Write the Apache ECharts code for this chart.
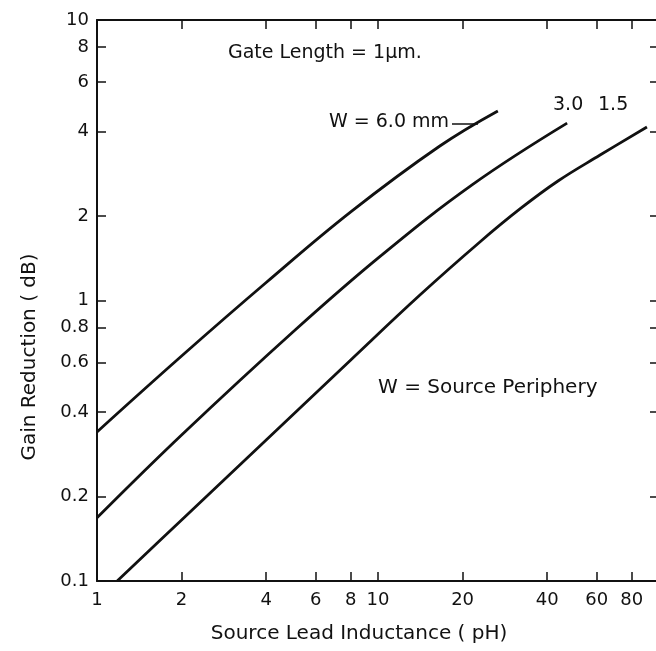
<!DOCTYPE html>
<html>
<head>
<meta charset="utf-8">
<script src="https://cdn.jsdelivr.net/npm/echarts@6/dist/echarts.min.js"></script>
<style>
  html, body { margin: 0; padding: 0; background: #fff; }
  #chart { width: 656px; height: 651px; }
</style>
</head>
<body>
<div id="chart"></div>
<script>
// tick positions (log axes)
const xTicks = [1, 2, 4, 6, 8, 10, 20, 40, 60, 80]
const yTicks = [0.1, 0.2, 0.4, 0.6, 0.8, 1, 2, 4, 6, 8, 10]

// curves: [inductance pH, gain reduction dB]
const w60 = [[1, 0.34], [2, 0.634], [4, 1.159], [8, 2.07], [16.6, 3.555], [26.7, 4.74]]
const w30 = [[1, 0.168], [2, 0.3315], [5.07, 0.785], [10.2, 1.44], [21.8, 2.6], [47.1, 4.29]]
const w15 = [[1.18, 0.1], [2, 0.165], [4, 0.318], [8, 0.614], [14.1, 1.046], [23.1, 1.62], [32, 2.12], [43.7, 2.667], [61.7, 3.3], [90.6, 4.155]]

const font = 'DejaVu Sans'
const ink = '#111'

const chart = echarts.init(document.getElementById('chart'))

const fmt = v => String(+(+v).toPrecision(3))

function axis(pos, ticks, labels, min, max, margin) {
  return {
    type: 'log',
    logBase: 10,
    position: pos,
    min,
    max,
    axisLine: { show: true, lineStyle: { color: ink, width: 2 } },
    axisTick: { show: true, inside: true, length: 9, customValues: ticks, lineStyle: { color: ink, width: 1.5 } },
    axisLabel: labels
      ? { show: true, customValues: ticks, formatter: fmt, color: ink, fontFamily: font, fontSize: 18, margin }
      : { show: false },
    splitLine: { show: false },
    minorTick: { show: false }
  }
}

const line = (name, data) => ({
  name,
  type: 'line',
  data,
  smooth: 0.4,
  showSymbol: false,
  lineStyle: { color: ink, width: 2.8 },
  xAxisIndex: 0,
  yAxisIndex: 0
})

const txt = (x, y, s, size, extra) => ({
  type: 'text', x, y,
  style: Object.assign({ text: s, fill: ink, font: size + 'px ' + font, verticalAlign: 'middle' }, extra)
})

chart.setOption({
  backgroundColor: '#fff',
  animation: false,
  grid: { left: 97, top: 20, width: 562, height: 561, outerBoundsMode: 'none' },
  xAxis: [
    axis('bottom', xTicks, true, 1, 100, 10),
    axis('top', xTicks, false, 1, 100)
  ],
  yAxis: [
    axis('left', yTicks, true, 0.1, 10, 8),
    axis('right', yTicks, false, 0.1, 10)
  ],
  series: [
    line('W = 6.0 mm', w60),
    line('3.0', w30),
    line('1.5', w15)
  ],
  graphic: [
    txt(228, 53, 'Gate Length = 1\u03bcm.', 19),
    txt(329, 122, 'W = 6.0 mm', 19),
    { type: 'line', shape: { x1: 452, y1: 124, x2: 478, y2: 124 }, style: { stroke: ink, lineWidth: 1.5 } },
    txt(553, 105, '3.0', 19),
    txt(598, 105, '1.5', 19),
    txt(378, 388, 'W = Source Periphery', 20),
    txt(359, 634, 'Source Lead Inductance ( pH)', 20, { align: 'center' }),
    Object.assign(txt(30, 357, 'Gain Reduction ( dB)', 20, { align: 'center' }), { rotation: Math.PI / 2 })
  ]
})
</script>
</body>
</html>
